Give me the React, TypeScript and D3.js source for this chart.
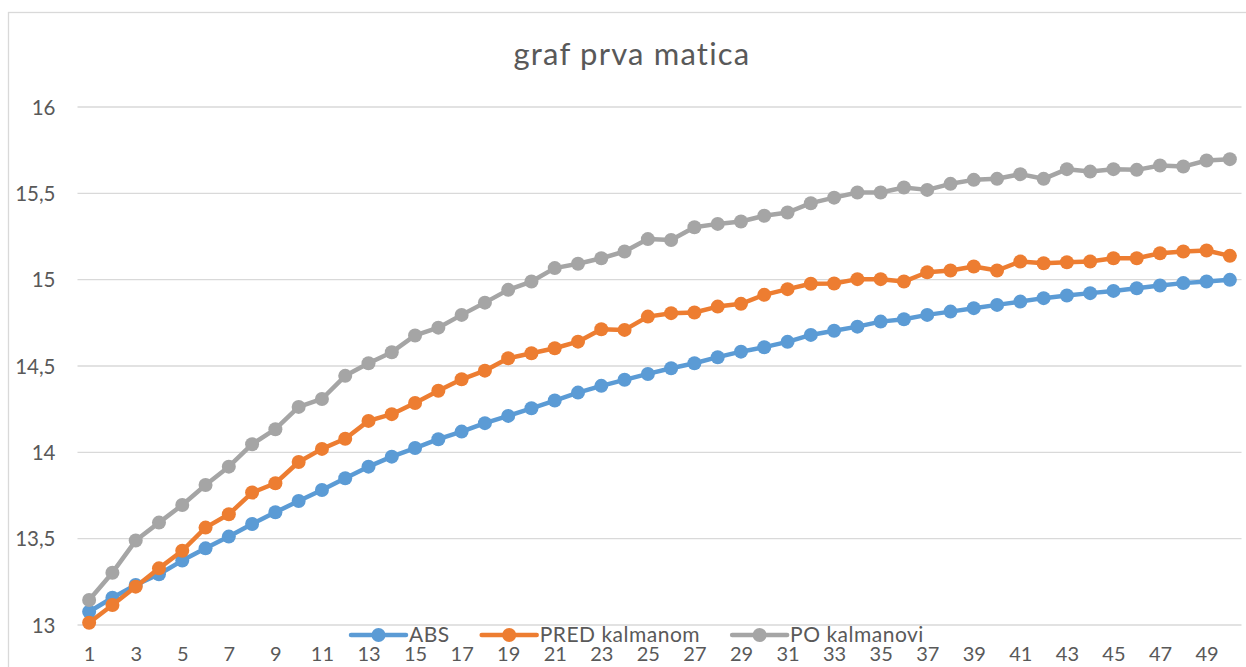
import React, { useEffect, useRef } from "react";
import * as d3 from "d3";

const categories = [
  1, 2, 3, 4, 5, 6, 7, 8, 9, 10, 11, 12, 13, 14, 15, 16, 17, 18, 19, 20, 21, 22, 23, 24, 25,
  26, 27, 28, 29, 30, 31, 32, 33, 34, 35, 36, 37, 38, 39, 40, 41, 42, 43, 44, 45, 46, 47, 48,
  49, 50,
];

const xTickLabels = [
  1, 3, 5, 7, 9, 11, 13, 15, 17, 19, 21, 23, 25, 27, 29, 31, 33, 35, 37, 39, 41, 43, 45, 47, 49,
];

const yTickValues = [13, 13.5, 14, 14.5, 15, 15.5, 16];

const absValues = [
  13.077, 13.158, 13.232, 13.294, 13.373, 13.444, 13.512, 13.585, 13.653, 13.718,
  13.782, 13.85, 13.917, 13.975, 14.025, 14.076, 14.12, 14.169, 14.211, 14.255,
  14.3, 14.346, 14.385, 14.42, 14.454, 14.487, 14.516, 14.551, 14.583, 14.609,
  14.64, 14.68, 14.704, 14.728, 14.757, 14.771, 14.796, 14.815, 14.835, 14.854,
  14.873, 14.893, 14.908, 14.922, 14.935, 14.95, 14.966, 14.98, 14.989, 14.999,
];

const predValues = [
  13.013, 13.116, 13.222, 13.328, 13.43, 13.564, 13.641, 13.767, 13.821, 13.944,
  14.02, 14.079, 14.182, 14.221, 14.286, 14.357, 14.423, 14.473, 14.545, 14.574,
  14.603, 14.641, 14.713, 14.709, 14.786, 14.806, 14.81, 14.844, 14.86, 14.912,
  14.945, 14.976, 14.978, 15.003, 15.003, 14.989, 15.043, 15.053, 15.076, 15.053,
  15.105, 15.095, 15.101, 15.105, 15.124, 15.124, 15.153, 15.163, 15.169, 15.138,
];

const poValues = [
  13.145, 13.303, 13.489, 13.593, 13.695, 13.811, 13.917, 14.047, 14.134, 14.263,
  14.309, 14.443, 14.516, 14.58, 14.677, 14.722, 14.796, 14.867, 14.941, 14.989,
  15.067, 15.092, 15.124, 15.163, 15.235, 15.23, 15.304, 15.323, 15.337, 15.37,
  15.389, 15.443, 15.475, 15.505, 15.505, 15.534, 15.52, 15.555, 15.578, 15.584,
  15.611, 15.584, 15.64, 15.626, 15.64, 15.636, 15.661, 15.655, 15.69, 15.698,
];

const seriesNames = ["ABS", "PRED kalmanom", "PO kalmanovi"];
const seriesColors = ["#5B9BD5", "#ED7D31", "#A5A5A5"];
const seriesValues = [absValues, predValues, poValues];

const title = "graf prva matica";

const App = () => {
  const svgRef = useRef<SVGSVGElement>(null);

  useEffect(() => {
    const svg = d3.select(svgRef.current);
    svg.selectAll("*").remove();

    const width = 1246;
    const height = 667;
    const plot = { left: 77.5, right: 1241.5, top: 107, bottom: 625 };
    const font = "Lato, 'Noto Sans', sans-serif";
    const textColor = "#595959";

    svg.attr("width", width).attr("height", height).attr("viewBox", [0, 0, width, height]);

    // chart area border (cropped on right and bottom)
    svg
      .append("rect")
      .attr("x", 8.5)
      .attr("y", 12.5)
      .attr("width", 1400)
      .attr("height", 800)
      .attr("fill", "#fff")
      .attr("stroke", "#d9d9d9")
      .attr("stroke-width", 1.3);

    const x = d3
      .scalePoint<number>()
      .domain(categories)
      .range([plot.left, plot.right])
      .padding(0.5);

    const y = d3.scaleLinear().domain([13, 16]).range([plot.bottom, plot.top]);

    // gridlines
    svg
      .append("g")
      .selectAll("line")
      .data(yTickValues)
      .join("line")
      .attr("x1", plot.left)
      .attr("x2", plot.right)
      .attr("y1", (d) => y(d))
      .attr("y2", (d) => y(d))
      .attr("stroke", "#d9d9d9")
      .attr("stroke-width", 1.3);

    // y axis labels
    const yAxis = svg
      .append("g")
      .attr("transform", `translate(${plot.left - 12},0)`)
      .call(
        d3
          .axisLeft(y)
          .tickValues(yTickValues)
          .tickSize(0)
          .tickPadding(10)
          .tickFormat((d) => String(d).replace(".", ","))
      );
    yAxis.select(".domain").remove();
    yAxis
      .selectAll("text")
      .attr("font-family", font)
      .attr("font-size", 20.5)
      .attr("fill", textColor)
      .attr("dy", "0.35em");

    // x axis labels
    const xAxis = svg
      .append("g")
      .attr("transform", `translate(0,${plot.bottom})`)
      .call(d3.axisBottom(x).tickValues(xTickLabels).tickSize(0).tickPadding(22));
    xAxis.select(".domain").remove();
    xAxis
      .selectAll("text")
      .attr("font-family", font)
      .attr("font-size", 20)
      .attr("fill", textColor)
      .attr("dy", "0.71em");

    // series
    const line = d3
      .line<number>()
      .x((d, i) => x(categories[i]) as number)
      .y((d) => y(d));

    seriesValues.forEach((vals, s) => {
      const g = svg.append("g");
      g.append("path")
        .datum(vals)
        .attr("fill", "none")
        .attr("stroke", seriesColors[s])
        .attr("stroke-width", 4.5)
        .attr("stroke-linejoin", "round")
        .attr("stroke-linecap", "round")
        .attr("d", line);
      g.selectAll("circle")
        .data(vals)
        .join("circle")
        .attr("cx", (d, i) => x(categories[i]) as number)
        .attr("cy", (d) => y(d))
        .attr("r", 7)
        .attr("fill", seriesColors[s]);
    });

    // title
    svg
      .append("text")
      .attr("x", 632)
      .attr("y", 65)
      .attr("text-anchor", "middle")
      .attr("font-family", font)
      .attr("font-size", 31)
      .attr("letter-spacing", 1.2)
      .attr("fill", textColor)
      .text(title);

    // legend
    const legend = svg.append("g").attr("transform", "translate(351,635)");
    let cx = 0;
    seriesNames.forEach((name, s) => {
      const item = legend.append("g").attr("transform", `translate(${cx},0)`);
      item
        .append("line")
        .attr("x1", 0)
        .attr("x2", 55)
        .attr("stroke", seriesColors[s])
        .attr("stroke-width", 4.5)
        .attr("stroke-linecap", "round");
      item.append("circle").attr("cx", 27.5).attr("r", 7).attr("fill", seriesColors[s]);
      const t = item
        .append("text")
        .attr("x", 58)
        .attr("dy", "0.35em")
        .attr("font-family", font)
        .attr("font-size", 21)
        .attr("letter-spacing", 0.5)
        .attr("fill", textColor)
        .text(name);
      const w = (t.node() as SVGTextElement).getComputedTextLength();
      cx += 58 + w + 32;
    });
  }, []);

  return (
    <svg
      ref={svgRef}
      style={{ position: "absolute", left: 0, top: 0, display: "block" }}
    ></svg>
  );
};

export default App;
